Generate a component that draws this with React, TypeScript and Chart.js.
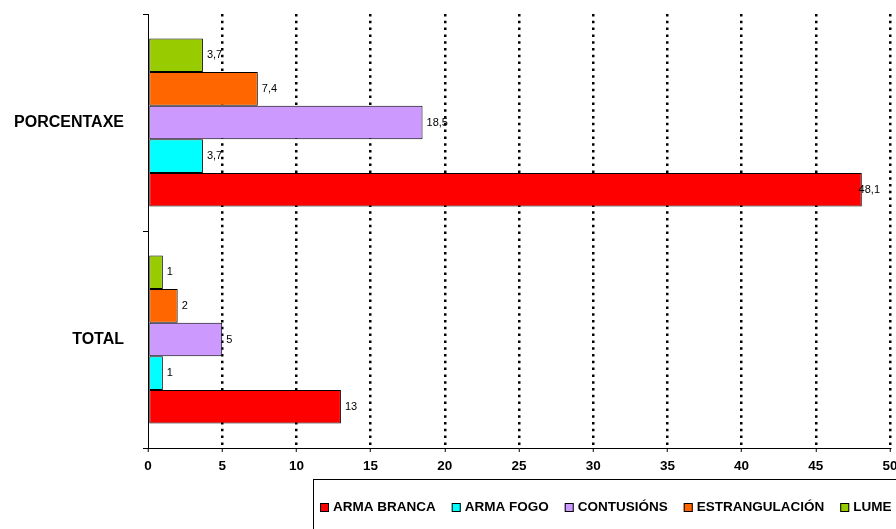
import React, { useEffect, useRef } from 'react';
import { Chart, registerables } from 'chart.js';

Chart.register(...registerables);

const categories = ['PORCENTAXE', 'TOTAL'];
const seriesNames = ['ARMA BRANCA', 'ARMA FOGO', 'CONTUSIÓNS', 'ESTRANGULACIÓN', 'LUME'];
const seriesColors = ['#FF0000', '#00FFFF', '#CC99FF', '#FF6600', '#99CC00'];
const armaBranca = [48.1, 13];
const armaFogo = [3.7, 1];
const contusions = [18.5, 5];
const estrangulacion = [7.4, 2];
const lume = [3.7, 1];
const seriesValues = [armaBranca, armaFogo, contusions, estrangulacion, lume];
const xMin = 0;
const xMax = 50;
const xStep = 5;

const FONT = '"Liberation Sans", Arial, sans-serif';

const valueLabelPlugin = {
  id: 'valueLabels',
  afterDatasetsDraw(chart: any) {
    const ctx = chart.ctx;
    const area = chart.chartArea;
    ctx.save();
    ctx.font = `11px ${FONT}`;
    ctx.fillStyle = '#000';
    ctx.textBaseline = 'middle';
    ctx.textAlign = 'left';
    chart.data.datasets.forEach((ds: any, i: number) => {
      const meta = chart.getDatasetMeta(i);
      meta.data.forEach((el: any, j: number) => {
        const txt = String(ds.data[j]).replace('.', ',');
        const w = ctx.measureText(txt).width;
        const x = Math.min(el.x + 4, area.right - w - 10);
        ctx.fillText(txt, x, el.y);
      });
    });
    ctx.restore();
  },
};

const boxLegendPlugin = {
  id: 'boxLegend',
  afterDraw(chart: any) {
    const ctx = chart.ctx;
    const left = 313;
    const top = 479;
    ctx.save();
    ctx.strokeStyle = '#000';
    ctx.lineWidth = 1;
    ctx.strokeRect(left + 0.5, top + 0.5, chart.width, 60);
    ctx.font = `bold 13.5px ${FONT}`;
    ctx.textBaseline = 'middle';
    ctx.textAlign = 'left';
    let x = left + 7;
    const y = top + 28.5;
    const list = chart.data.datasets.slice().reverse();
    list.forEach((d: any) => {
      ctx.fillStyle = d.backgroundColor;
      ctx.fillRect(x, y - 4.5, 9, 9);
      ctx.strokeStyle = '#000';
      ctx.strokeRect(x + 0.5, y - 4, 8, 8);
      ctx.fillStyle = '#000';
      ctx.fillText(d.label, x + 13, y);
      x += 13 + ctx.measureText(d.label).width + 16;
    });
    ctx.restore();
  },
};

export default function App() {
  const ref = useRef<HTMLCanvasElement | null>(null);

  useEffect(() => {
    if (!ref.current) return;
    const order = [4, 3, 2, 1, 0];
    const datasets = order.map((i) => ({
      label: seriesNames[i],
      data: seriesValues[i],
      backgroundColor: seriesColors[i],
      borderColor: '#000',
      borderWidth: 1,
      borderSkipped: false,
      categoryPercentage: 0.774,
      barPercentage: 1.0,
    }));
    const chart = new Chart(ref.current, {
      type: 'bar',
      data: { labels: categories, datasets },
      options: {
        indexAxis: 'y',
        animation: false,
        responsive: false,
        devicePixelRatio: 1,
        layout: { padding: { left: 0, right: 22, top: 14, bottom: 82 } },
        plugins: {
          legend: { display: false },
          tooltip: { enabled: false },
        },
        scales: {
          x: {
            min: xMin,
            max: xMax,
            ticks: {
              stepSize: xStep,
              color: '#000',
              font: { family: FONT, size: 13.5, weight: 'bold' },
              padding: 6,
            },
            grid: {
              color: (c: any) => (c.tick && c.tick.value === 0 ? 'rgba(0,0,0,0)' : '#000'),
              lineWidth: 2.5,
              drawTicks: true,
              tickColor: '#000',
              tickLength: 4,
              tickWidth: 1,
            },
            border: { display: true, color: '#000', width: 1, dash: [2.5, 4.3] },
            afterFit: (s: any) => {
              s.height = 30;
            },
          },
          y: {
            ticks: {
              color: '#000',
              font: { family: FONT, size: 16, weight: 'bold' },
              padding: 19,
            },
            grid: {
              drawOnChartArea: false,
              drawTicks: true,
              tickLength: 5,
              color: '#000',
              tickColor: '#000',
            },
            border: { display: true, color: '#000', width: 1 },
            afterFit: (s: any) => {
              s.width = 148;
              s.paddingTop = 0;
              s.paddingBottom = 0;
            },
          },
        },
      },
      plugins: [valueLabelPlugin, boxLegendPlugin],
    });
    return () => chart.destroy();
  }, []);

  return (
    <div style={{ position: 'fixed', left: 0, top: 0, width: 896, height: 529, overflow: 'hidden', background: '#fff' }}>
      <canvas ref={ref} width={912} height={560} style={{ width: 912, height: 560, display: 'block' }} />
    </div>
  );
}
